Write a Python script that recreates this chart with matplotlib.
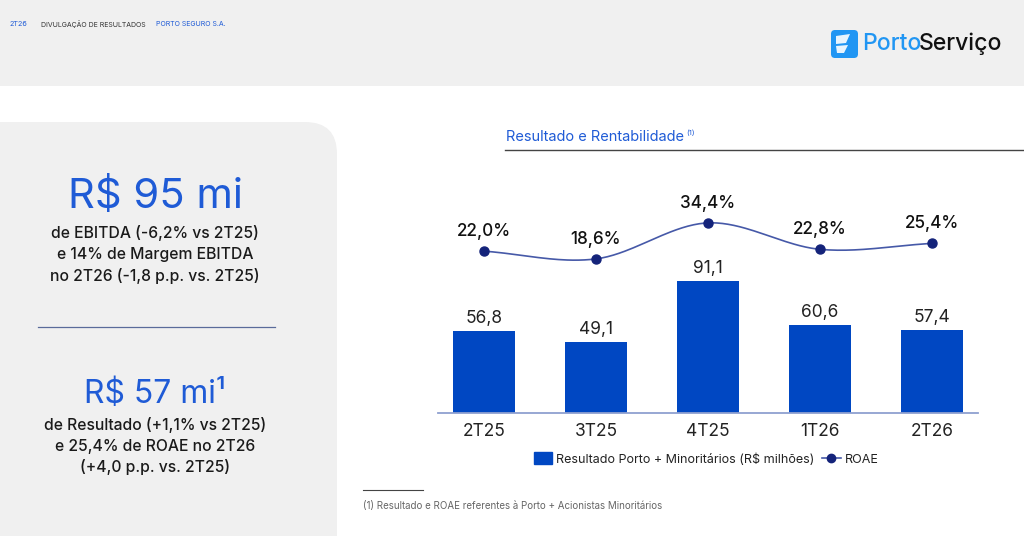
import matplotlib
matplotlib.use("Agg")
import matplotlib.pyplot as plt
import numpy as np
from matplotlib.patches import Rectangle, FancyBboxPatch, Polygon
from matplotlib.lines import Line2D

plt.rcParams['font.family'] = ['Inter', 'DejaVu Sans']

# dados
trimestres = ['2T25', '3T25', '4T25', '1T26', '2T26']
resultado = [56.8, 49.1, 91.1, 60.6, 57.4]
roae = [22.0, 18.6, 34.4, 22.8, 25.4]

COR_BARRA = '#0047c2'
COR_LINHA = '#4659a8'
COR_PONTO = '#14237a'
COR_AZUL = '#1f5bd6'
COR_CINZA = '#f0f0f0'


def curva_suave(x, y, n=40):
    # catmull-rom so para desenhar a linha arredondada
    x = np.asarray(x, float)
    y = np.asarray(y, float)
    px = np.concatenate([[2 * x[0] - x[1]], x, [2 * x[-1] - x[-2]]])
    py = np.concatenate([[2 * y[0] - y[1]], y, [2 * y[-1] - y[-2]]])
    xs, ys = [], []
    for i in range(1, len(px) - 2):
        t = np.linspace(0, 1, n)
        for p, out in ((px, xs), (py, ys)):
            p0, p1, p2, p3 = p[i - 1], p[i], p[i + 1], p[i + 2]
            out.extend(0.5 * ((2 * p1) + (-p0 + p2) * t
                              + (2 * p0 - 5 * p1 + 4 * p2 - p3) * t ** 2
                              + (-p0 + 3 * p1 - 3 * p2 + p3) * t ** 3))
    return np.array(xs), np.array(ys)


fig = plt.figure(figsize=(10.24, 5.36), dpi=100)
fig.patch.set_facecolor('white')

# fundo em coordenadas de pixel
bg = fig.add_axes([0, 0, 1, 1], zorder=0)
bg.set_xlim(0, 1024)
bg.set_ylim(536, 0)
bg.axis('off')
bg.add_patch(Rectangle((0, 0), 1024, 86, color=COR_CINZA, lw=0))
bg.add_patch(FancyBboxPatch((-60, 122), 397, 480,
                            boxstyle='round,pad=0,rounding_size=32',
                            color=COR_CINZA, lw=0))

# cabecalho
bg.text(10, 24, '2T26', color=COR_AZUL, fontsize=5.2, va='center')
bg.text(41, 24, 'DIVULGAÇÃO DE RESULTADOS', color='#333333', fontsize=5.0, va='center')
bg.text(156, 24, 'PORTO SEGURO S.A.', color=COR_AZUL, fontsize=5.0, va='center')

# logo
bg.add_patch(FancyBboxPatch((831, 30), 27, 28, boxstyle='round,pad=0,rounding_size=4',
                            color='#2196f3', lw=0))
bg.add_patch(Polygon([[836, 36], [850, 34], [846, 43], [836, 44]], color='white', alpha=0.9, lw=0))
bg.add_patch(Polygon([[836, 46], [848, 45], [844, 53], [837, 53]], color='white', alpha=0.9, lw=0))
bg.text(862, 44, 'Porto', color='#2196f3', fontsize=16.5, weight='medium', va='center', ha='left')
bg.text(919, 44, 'Serviço', color='#111111', fontsize=16.5, weight='medium', va='center', ha='left')

# painel esquerdo
bg.text(155, 197, 'R$ 95 mi', color=COR_AZUL, fontsize=30, weight='normal',
        ha='center', va='center')
for yy, s in zip([233, 255, 276], ['de EBITDA (-6,2% vs 2T25)',
                                    'e 14% de Margem EBITDA',
                                    'no 2T26 (-1,8 p.p. vs. 2T25)']):
    bg.text(155, yy, s, color='#1a1a1a', fontsize=11.3, weight='medium', ha='center', va='center')
bg.plot([38, 275], [327, 327], color='#5a6b9a', lw=0.9)
bg.text(155, 395, 'R$ 57 mi¹', color=COR_AZUL, fontsize=23, weight='normal',
        ha='center', va='center')
for yy, s in zip([425, 446, 467], ['de Resultado (+1,1% vs 2T25)',
                                    'e 25,4% de ROAE no 2T26',
                                    '(+4,0 p.p. vs. 2T25)']):
    bg.text(155, yy, s, color='#1a1a1a', fontsize=11.3, weight='medium', ha='center', va='center')

# titulo do grafico
bg.text(506, 137, 'Resultado e Rentabilidade', color=COR_AZUL, fontsize=10.5, va='center')
bg.text(686, 133, '(1)', color=COR_AZUL, fontsize=5.5, va='center')
bg.plot([505, 1024], [150, 150], color='#444444', lw=1.0)

# nota de rodape
bg.plot([363, 423], [490, 490], color='#444444', lw=0.8)
bg.text(363, 506, '(1) Resultado e ROAE referentes à Porto + Acionistas Minoritários',
        color='#666666', fontsize=7, va='center')

# grafico principal
ax = fig.add_axes([438 / 1024, 1 - 413 / 536, 540 / 1024, 243 / 536], zorder=2)
ax.patch.set_alpha(0)
x = np.arange(len(trimestres))
barras = ax.bar(x, resultado, width=0.56, color=COR_BARRA, zorder=2)
for xi, v in zip(x, resultado):
    ax.annotate(f'{v:.1f}'.replace('.', ','), (xi, v), xytext=(0, 3),
                textcoords='offset points', ha='center', va='bottom',
                fontsize=12.5, color='#222222')
ax.set_xlim(-0.41, 4.41)
ax.set_ylim(0, 167.7)
ax.set_xticks(x)
ax.set_xticklabels(trimestres)
ax.tick_params(axis='x', length=0, pad=7, labelsize=12.5, labelcolor='#222222')
ax.set_yticks([])
for s in ['top', 'right', 'left']:
    ax.spines[s].set_visible(False)
ax.spines['bottom'].set_color('#8fa0d0')
ax.spines['bottom'].set_linewidth(1.3)

ax2 = ax.twinx()
ax2.set_ylim(-49.0, 57.6)
ax2.axis('off')
cx, cy = curva_suave(x, roae)
ax2.plot(cx, cy, color=COR_LINHA, lw=1.2, zorder=3)
ax2.plot(x, roae, 'o', color=COR_PONTO, ms=6.5, zorder=4)
for xi, v in zip(x, roae):
    ax2.annotate(f'{v:.1f}%'.replace('.', ','), (xi, v), xytext=(0, 8),
                 textcoords='offset points', ha='center', va='bottom',
                 fontsize=12.3, weight='medium', color='#111111')

handles = [Rectangle((0, 0), 1, 1, color=COR_BARRA),
           Line2D([], [], color=COR_LINHA, marker='o', markerfacecolor=COR_PONTO,
                  markeredgecolor=COR_PONTO, ms=6, lw=1.2)]
fig.legend(handles, ['Resultado Porto + Minoritários (R$ milhões)', 'ROAE'],
           loc='center', bbox_to_anchor=(706 / 1024, 1 - 459 / 536), ncol=2,
           frameon=False, fontsize=9.0, handlelength=1.5, handleheight=1.1,
           columnspacing=0.6, handletextpad=0.3, labelcolor='#222222')

fig.savefig('out.png', dpi=100, facecolor='white')
